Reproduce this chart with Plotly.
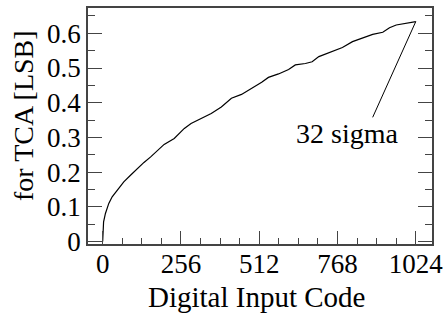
import plotly.graph_objects as go

# Data
codes = [0, 3, 9, 20, 31, 47, 69, 91, 113, 135, 157, 179, 201, 234, 267, 289, 322, 355,
         388, 421, 454, 487, 520, 542, 575, 608, 630, 663, 685, 707, 740, 784, 817, 850,
         883, 916, 938, 960, 993, 1024]
tca = [0.0, 0.057, 0.081, 0.110, 0.129, 0.148, 0.172, 0.191, 0.211, 0.228, 0.244, 0.263,
       0.280, 0.297, 0.326, 0.340, 0.355, 0.369, 0.388, 0.413, 0.424, 0.441, 0.459, 0.473,
       0.483, 0.496, 0.509, 0.513, 0.518, 0.533, 0.545, 0.559, 0.576, 0.586, 0.597, 0.603,
       0.616, 0.624, 0.629, 0.634]
x_ticks = [0, 256, 512, 768, 1024]
x_tick_text = ["0", "256", "512", "768", "1024"]
y_ticks = [0, 0.1, 0.2, 0.3, 0.4, 0.5, 0.6]
y_tick_text = ["0", "0.1", "0.2", "0.3", "0.4", "0.5", "0.6"]

label_text = "32 sigma"
label_pos = (800, 0.31)
pointer_end = (883, 0.358)

FONT = "Liberation Serif, Times New Roman, serif"
AX = "#444444"
L, R, T, B = 88, 16, 8, 70
PW, PH = 448 - L - R, 314 - T - B

fig = go.Figure()
fig.add_trace(go.Scatter(x=codes, y=tca, mode="lines",
                         line=dict(color="black", width=1.2), showlegend=False,
                         hoverinfo="skip"))

# pointer line from the curve end to the label
fig.add_shape(type="line", x0=codes[-1], y0=tca[-1], x1=pointer_end[0], y1=pointer_end[1],
              xref="x", yref="y", line=dict(color="black", width=1))
fig.add_annotation(x=label_pos[0], y=label_pos[1], xref="x", yref="y", text=label_text,
                   showarrow=False, xanchor="center", yanchor="middle",
                   font=dict(family=FONT, size=28, color="black"))
# y-axis title
fig.add_annotation(x=(23 - L) / PW, y=(314 - B - 116) / PH, xref="paper", yref="paper",
                   text="for TCA [LSB]", showarrow=False, textangle=-90,
                   xanchor="center", yanchor="middle",
                   font=dict(family=FONT, size=28, color="black"))
# x-axis title
fig.add_annotation(x=(256.5 - L) / PW, y=(314 - B - 297) / PH, xref="paper", yref="paper",
                   text="Digital Input Code", showarrow=False,
                   xanchor="center", yanchor="middle",
                   font=dict(family=FONT, size=29, color="black"))

fig.update_layout(
    width=448, height=314,
    margin=dict(l=L, r=R, t=T, b=B, autoexpand=False),
    paper_bgcolor="white", plot_bgcolor="white",
    font=dict(family=FONT, size=27, color="black"),
)

fig.update_xaxes(range=[-48, 1077], tickvals=x_ticks, ticktext=x_tick_text,
                 ticks="inside", ticklen=13, tickwidth=1.2, tickcolor=AX,
                 minor=dict(dtick=64, tick0=0, ticks="inside", ticklen=6, tickwidth=1.2, tickcolor=AX),
                 showline=True, linecolor=AX, linewidth=1.5, mirror=True,
                 showgrid=False, zeroline=False, automargin=False,
                 ticklabelstandoff=-5,
                 tickfont=dict(family=FONT, size=27, color="black"))
fig.update_yaxes(range=[-0.007, 0.673], tickvals=y_ticks, ticktext=y_tick_text,
                 ticks="inside", ticklen=14, tickwidth=1.2, tickcolor=AX,
                 minor=dict(dtick=0.05, tick0=0, ticks="inside", ticklen=7, tickwidth=1.2, tickcolor=AX),
                 showline=True, linecolor=AX, linewidth=1.5, mirror="ticks",
                 showgrid=False, zeroline=False, automargin=False,
                 tickfont=dict(family=FONT, size=27, color="black"))

fig.write_html("out.html", config={"displayModeBar": False},
               post_script="document.body.style.margin='0';")
